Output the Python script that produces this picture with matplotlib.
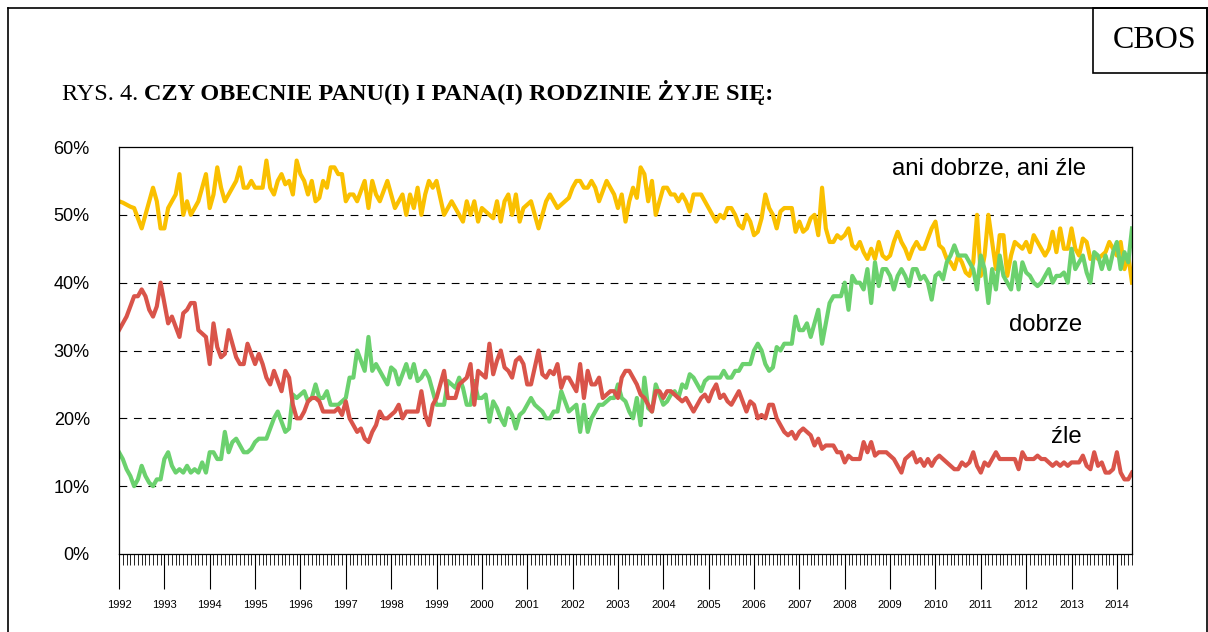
import numpy as np
import matplotlib
matplotlib.use("Agg")
import matplotlib.pyplot as plt
from matplotlib.lines import Line2D
from matplotlib.patches import Rectangle
from matplotlib.ticker import FixedLocator

# monthly survey results, Jan 1992 .. May 2014 (percent)
ani = [52, 51.8, 51.5, 51.2, 51, 49.5, 48, 50, 52, 54, 52, 48,
       48, 51, 52, 53, 56, 50, 52, 50, 51, 52, 54, 56,
       51, 53, 57, 54, 52, 53, 54, 55, 57, 54, 54, 55,
       54, 54, 54, 58, 54, 53, 55, 56, 54.5, 55, 53, 58,
       56, 55, 53, 55, 52, 52.5, 55, 54, 57, 57, 56, 56,
       52, 53, 53, 52, 53.5, 55, 51, 55, 53, 52, 53.5, 55,
       53, 51, 52, 53, 50, 53, 51, 54, 50, 53, 55, 54,
       55, 52.5, 50, 51, 52, 51, 50, 49, 52, 50, 52, 49,
       51, 50.5, 50, 49.5, 52, 49, 52, 53, 50, 53, 49, 51,
       51.5, 52, 50, 48, 50, 52, 53, 52, 51, 51.5, 52, 52.5,
       54, 55, 55, 54, 54, 55, 54, 52, 53.5, 55, 54, 53,
       51, 53, 49, 52, 54, 52.5, 57, 56, 52, 55, 50, 52,
       54, 54, 53, 53, 52, 53, 52, 50.5, 53, 53, 53, 52,
       51, 50, 49, 50, 49.5, 51, 51, 50, 48.5, 48, 50, 49,
       47, 47.5, 49.5, 53, 51, 50, 48, 50.5, 51, 51, 51, 47.5,
       49, 47.5, 48, 49.5, 50, 47, 54, 48, 46, 46, 47, 46.5,
       47, 48, 45.5, 45, 46, 44.5, 43.5, 45, 43.5, 46, 44, 43.5,
       44, 46, 47.5, 46, 45, 43.5, 45, 46, 45, 45, 46.5, 48,
       49, 45.5, 45, 43.5, 43, 42, 44, 43, 41.5, 41, 43, 50,
       41, 44, 50, 46, 42, 47, 47, 41, 44, 46, 45.5, 45,
       46, 44.5, 47, 46, 45, 44, 45, 47.5, 44.5, 48, 45, 45,
       48, 45, 44, 46.5, 46, 43.5, 44, 43.5, 44, 44.5, 46, 45,
       44, 46, 42, 44, 40]

zle = [33, 34, 35, 36.5, 38, 38, 39, 38, 36, 35, 36.5, 40,
       37, 34, 35, 33.5, 32, 35.5, 36, 37, 37, 33, 32.5, 32,
       28, 34, 30.5, 29, 29.5, 33, 31, 29, 28, 28, 31, 29.5,
       28, 29.5, 28, 26, 25, 27, 25.5, 24, 27, 26, 22, 20,
       20, 21, 22.5, 23, 23, 22.5, 21, 21, 21, 21, 21.5, 20.5,
       22.5, 20, 19, 18, 18.5, 17, 16.5, 18, 19, 21, 20, 20,
       20.5, 21, 22, 20, 21, 21, 21, 21, 24, 20.5, 19, 22,
       23, 25, 27, 23, 23, 23, 25, 25.5, 26, 28, 22, 27,
       26.5, 26, 31, 26.5, 28.5, 30, 27.5, 27, 26, 28.5, 29, 28,
       25, 25, 27.5, 30, 26.5, 26, 27, 26.5, 28, 24.5, 26, 26,
       25, 24, 28, 23, 27, 25, 25, 26, 23, 23.5, 24, 24,
       23, 26, 27, 27, 26, 25, 23.5, 23, 22, 21, 24, 24,
       23, 24, 24, 23.5, 23, 22.5, 23, 22, 21, 22, 23, 23.5,
       22.5, 24, 25, 23, 23.5, 22.5, 22, 23, 24, 22.5, 21, 22.5,
       22, 20, 20.5, 20, 22, 22, 20, 19, 18, 17.5, 18, 17,
       18, 18.5, 18, 17.5, 16, 17, 15.5, 16, 16, 16, 15, 15,
       13.5, 14.5, 14, 14, 14, 16.5, 15, 16.5, 14.5, 15, 15, 15,
       14.5, 14, 13, 12, 14, 14.5, 15, 13.5, 14, 13, 14, 13,
       14, 14.5, 14, 13.5, 13, 12.5, 12.5, 13.5, 13, 13.5, 15, 13,
       12, 13.5, 13, 14, 15, 14, 14, 14, 14, 14, 12.5, 15,
       14, 14, 14, 14.5, 14, 14, 13.5, 13, 13.5, 13, 13.5, 13,
       13.5, 13.5, 13.5, 14.5, 13, 12.5, 15, 13, 13.5, 12, 12, 12.5,
       15, 12, 11, 11, 12]

dobrze = [15, 14, 12.5, 11.5, 10, 11, 13, 11.5, 10.5, 10, 11, 11,
          14, 15, 13, 12, 12.5, 12, 13, 12, 12.5, 12, 13.5, 12,
          15, 15, 14, 14, 18, 15, 16.5, 17, 16, 15, 15, 15.5,
          16.5, 17, 17, 17, 18.5, 20, 21, 19.5, 18, 18.5, 23.5, 23,
          23.5, 24, 22.5, 23, 25, 23, 23, 24, 22, 22, 22, 22.5,
          23, 26, 26, 30, 28.5, 27, 32, 27, 28, 27, 26, 25,
          27.5, 27, 25, 26.5, 28, 26, 28, 25.5, 26, 27, 26, 24,
          22, 22, 22, 25.5, 25, 24.5, 26, 24.5, 22, 22, 25.5, 23,
          23, 23.5, 19.5, 22.5, 21.5, 20, 19, 21.5, 20.5, 18.5, 20.5, 21,
          22, 23, 22, 21.5, 21, 20, 20, 21, 21, 24, 22.5, 21,
          21.5, 22, 18, 22, 18, 20, 21, 22, 22, 22.5, 23, 23,
          25, 23, 22.5, 21, 20, 23, 19, 26, 21.5, 21, 25, 23.5,
          22, 22.5, 23.5, 24, 23, 25, 24.5, 26.5, 26, 25, 24, 25.5,
          26, 26, 26, 26, 27, 26, 26, 27, 27, 28, 28, 28,
          30, 31, 30, 28, 27, 27.5, 30.5, 30, 31, 31, 31, 35,
          33, 33, 34, 32, 34, 36, 31, 34, 37, 38, 38, 38,
          40, 36, 41, 40, 40, 39, 42, 37, 43, 39.5, 42, 42,
          41, 39, 41, 42, 41, 39.5, 42, 42, 40.5, 41, 40, 37.5,
          41, 41.5, 40.5, 43, 44, 45.5, 44, 44, 44, 43, 42, 39,
          44, 42, 37, 42, 39, 44, 41, 40, 39, 43, 39, 43,
          41.5, 41, 40, 39.5, 40, 41, 42, 40, 41, 41, 41.5, 40,
          45, 42, 43, 44, 41.5, 40, 44.5, 44, 42, 44, 42, 44.5,
          46, 42, 44.5, 43, 48]

years = list(range(1992, 2015))
yticks = [0, 10, 20, 30, 40, 50, 60]

W, H = 1208, 632
fig = plt.figure(figsize=(W / 100, H / 100), dpi=100)
ax = fig.add_axes([119 / W, 1 - 554 / H, (1132 - 119) / W, (554 - 147) / H])

t = 1992 + np.arange(len(ani)) / 12.0
ax.plot(t, ani, color="#FAC000", lw=3.0, solid_joinstyle="round")
ax.plot(t, dobrze, color="#6BD16E", lw=3.0, solid_joinstyle="round")
ax.plot(t, zle, color="#D9544A", lw=3.0, solid_joinstyle="round")

ax.set_xlim(1992, t[-1])
ax.set_ylim(0, 60)
for v in yticks[1:-1]:
    ax.axhline(v, color="black", lw=0.8, dashes=(7, 6), zorder=0)

ax.set_yticks(yticks)
ax.set_yticklabels(["%d%%" % v for v in yticks], fontfamily="Liberation Sans", fontsize=13)
ax.tick_params(axis="y", length=0, pad=21)

ax.xaxis.set_major_locator(FixedLocator(years))
ax.xaxis.set_minor_locator(FixedLocator(t))
ax.set_xticklabels([str(y) for y in years], fontfamily="Liberation Sans", fontsize=8)
ax.tick_params(axis="x", which="major", length=25, width=0.8, pad=8)
ax.tick_params(axis="x", which="minor", length=8, width=0.6)
for s in ax.spines.values():
    s.set_linewidth(0.9)

ax.text(2013.31, 56.7, "ani dobrze, ani źle", ha="right", va="center",
        fontfamily="Liberation Sans", fontsize=17.2)
ax.text(2013.24, 33.8, "dobrze", ha="right", va="center",
        fontfamily="Liberation Sans", fontsize=17.2)
ax.text(2013.22, 17.2, "źle", ha="right", va="center",
        fontfamily="Liberation Sans", fontsize=17.2)

# outer frame and CBOS box
fig.add_artist(Line2D([8 / W, 8 / W], [0, 1 - 8 / H], color="black", lw=1.2))
fig.add_artist(Line2D([8 / W, 1], [1 - 8 / H, 1 - 8 / H], color="black", lw=1.2))
fig.add_artist(Line2D([1207 / W, 1207 / W], [0, 1 - 8 / H], color="black", lw=1.2))
fig.add_artist(Rectangle((1093 / W, 1 - 73 / H), (1207 - 1093) / W, (73 - 8) / H,
                         transform=fig.transFigure, fill=False, lw=1.2))
fig.text(1155 / W, 1 - 40 / H, "CBOS", ha="center", va="center",
         fontfamily="Liberation Serif", fontsize=23)

tx = fig.text(62 / W, 1 - 100 / H, "RYS. 4. ", fontfamily="Liberation Serif", fontsize=17.5)
r = fig.canvas.get_renderer()
bb = tx.get_window_extent(r)
fig.text(bb.x1 / W, 1 - 100 / H, "CZY OBECNIE PANU(I) I PANA(I) RODZINIE ŻYJE SIĘ:",
         fontfamily="Liberation Serif", fontsize=17.5, fontweight="bold")

fig.savefig("out.png", dpi=100)
